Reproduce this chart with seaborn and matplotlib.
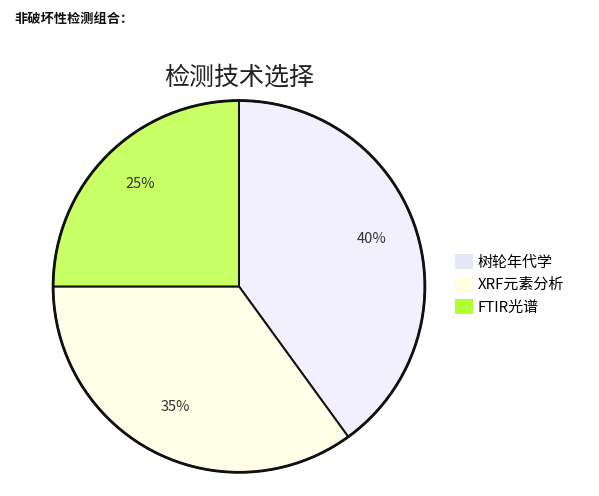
import matplotlib
matplotlib.use("Agg")
import matplotlib.pyplot as plt
import seaborn as sns
from matplotlib.patches import Patch

categories = ["树轮年代学", "XRF元素分析", "FTIR光谱"]
values = [40, 35, 25]
pie_colors = ["#f2f0fe", "#fffee6", "#c8ff64"]
legend_colors = ["#e6e6fa", "#ffffe0", "#adff2f"]
title = "检测技术选择"
header = "非破坏性检测组合："

sns.set_theme(style="white")
plt.rcParams["font.family"] = ["Noto Sans CJK SC", "DejaVu Sans"]

fig = plt.figure(figsize=(5.99, 4.96), dpi=100)
fig.patch.set_facecolor("white")
ax = fig.add_axes([0.0855, 0.044, 0.627, 0.757])

wedges, texts, autotexts = ax.pie(
    values, colors=pie_colors, startangle=90, counterclock=False,
    autopct="%d%%", pctdistance=0.75, radius=1.0,
    wedgeprops=dict(edgecolor="#111111", linewidth=1.4),
    textprops=dict(fontsize=10.5, color="#333333"),
)
for t in autotexts:
    t.set_va("baseline")
outer = plt.Circle((0, 0), 1.0, fill=False, edgecolor="#111111", linewidth=2)
ax.add_patch(outer)
ax.set_xlim(-1.01, 1.01)
ax.set_ylim(-1.01, 1.01)
ax.set_aspect("equal")
ax.axis("off")

fig.text(239 / 599, 1 - 78 / 496, title, ha="center", va="center", fontsize=18, color="#222222")
fig.text(14 / 599, 1 - 19 / 496, header, ha="left", va="center", fontsize=9.5, fontweight="bold", color="#111111")

handles = [Patch(facecolor=c, edgecolor="none") for c in legend_colors]
leg = fig.legend(handles, categories, loc="upper left", bbox_to_anchor=(452 / 599, 1 - 251 / 496),
                 frameon=False, fontsize=10.8, handlelength=1.2, handleheight=1.2,
                 handletextpad=0.3, labelspacing=0.45, borderaxespad=0, borderpad=0.2)
for t in leg.get_texts():
    t.set_color("#000000")

fig.savefig("out.png", dpi=100, facecolor="white")
